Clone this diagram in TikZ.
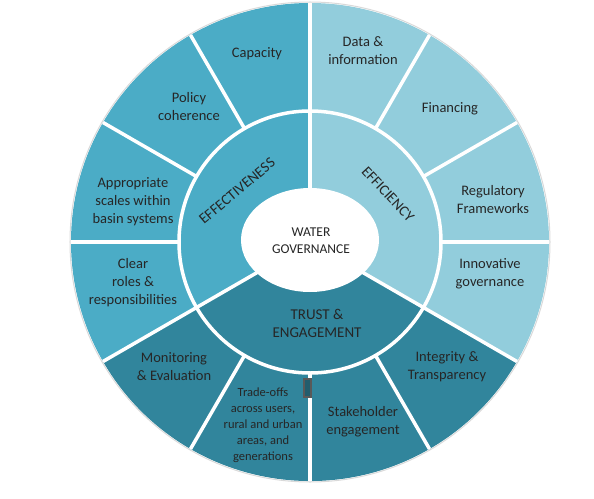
\documentclass[tikz,border=0pt]{standalone}
\usepackage{fontspec}
\setmainfont{Carlito}
\definecolor{effcol}{HTML}{4BACC6}
\definecolor{ficcol}{HTML}{92CDDC}
\definecolor{trustcol}{HTML}{31859C}

\begin{document}
\begin{tikzpicture}[x=1pt, y=1pt, line width=1pt,
  lbl/.style={align=center, text=black!85, inner sep=0pt, font=\fontsize{14.5}{18}\selectfont},
  smalllbl/.style={lbl, font=\fontsize{12.5}{16}\selectfont},
  pillar/.style={lbl, font=\fontsize{15}{18}\selectfont},
  gap/.style={white, line width=3.5pt}]

\useasboundingbox (-310,-256) rectangle (284,242);

% Draw the three pillars as sectors
\fill[effcol] (0,0) -- (90:239) arc[start angle=90, end angle=210, radius=239] -- cycle;
\fill[ficcol] (0,0) -- (-30:239) arc[start angle=-30, end angle=90, radius=239] -- cycle;
\fill[trustcol] (0,0) -- (210:239) arc[start angle=210, end angle=330, radius=239] -- cycle;

% Draw faint outline
\draw[black!15] (0,0) circle (240);

% Draw white gaps: ring, outer dividers, pillar dividers
\draw[gap] (0,0) circle (131);
\foreach \a in {0,30,...,330}
  \draw[gap] (\a:131) -- (\a:239);
\foreach \a in {90,210,330}
  \draw[gap] (0,0) -- (\a:131);

% Draw centre
\fill[white] (0,2) ellipse [x radius=69, y radius=52];
\node[lbl, font=\fontsize{13.5}{16.7}\selectfont] (water) at (1,1) {WATER\\GOVERNANCE};

% Pillars
\node[pillar, rotate=40] (effect) at (-73,51) {EFFECTIVENESS};
\node[pillar, rotate=-47] (effic) at (78,48) {EFFICIENCY};
\node[pillar] (trust) at (7,-81) {TRUST \&\\ENGAGEMENT};

% Outer principles
\node[lbl] (capacity) at (-53,188) {Capacity};
\node[lbl] (policy) at (-121,135) {Policy\\coherence};
\node[lbl] (scales) at (-177,40) {Appropriate\\scales within\\basin systems};
\node[lbl] (roles) at (-177,-41) {Clear\\roles \&\\responsibilities};
\node[lbl] (monitor) at (-136,-125) {Monitoring\\\& Evaluation};
\node[smalllbl] (tradeoff) at (-47,-183) {Trade-offs\\across users,\\rural and urban\\areas, and\\generations};
\node[lbl] (stake) at (53,-180) {Stakeholder\\engagement};
\node[lbl] (integrity) at (137,-125) {Integrity \&\\Transparency};
\node[lbl] (innov) at (180,-32) {Innovative\\governance};
\node[lbl] (regul) at (183,42) {Regulatory\\Frameworks};
\node[lbl] (financing) at (140,133) {Financing};
\node[lbl] (data) at (53,191) {Data \&\\information};

% Small marker box
\draw[gray!70!black, fill=trustcol!70!black, line width=1.5pt] (-6,-137) rectangle (1,-155);

\end{tikzpicture}
\end{document}
